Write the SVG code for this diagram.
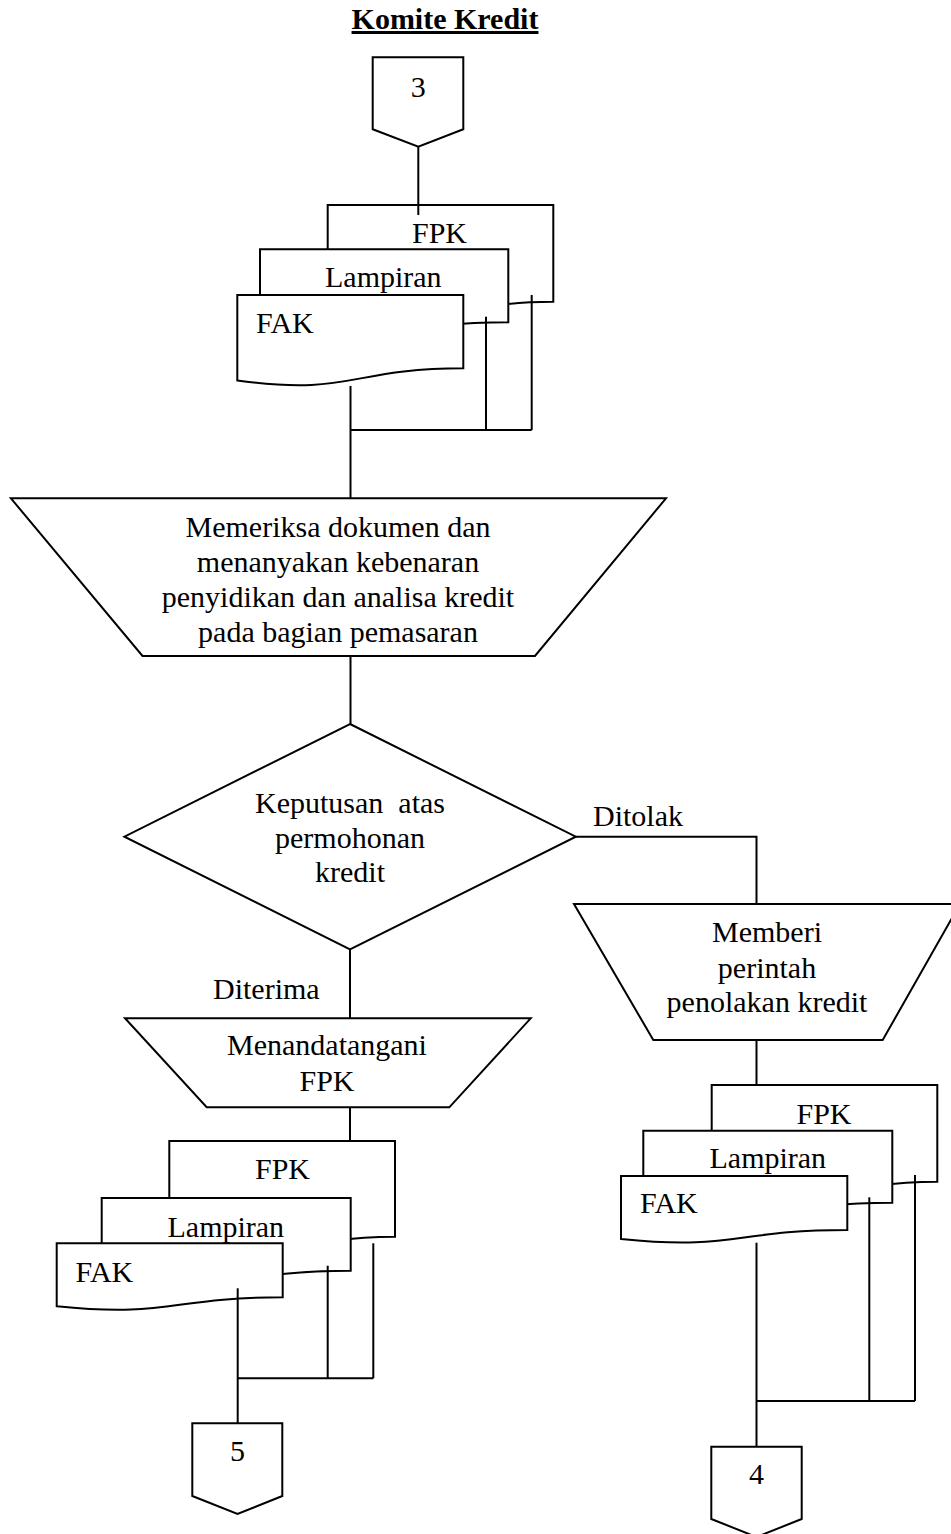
<svg xmlns="http://www.w3.org/2000/svg" width="951" height="1534" viewBox="0 0 951 1534">
  <style>
    .shape { fill: #ffffff; stroke: #000000; stroke-width: 2; stroke-linejoin: miter; }
    .conn { fill: none; stroke: #000000; stroke-width: 2; }
    text { font-family: "Liberation Serif", "Times New Roman", serif; font-size: 30px; fill: #000000; }
    .mid { text-anchor: middle; }
    .title { font-weight: bold; text-decoration: underline; }
  </style>
  <rect width="951" height="1534" fill="#ffffff"/>

  <text id="title" class="title mid" x="445" y="29">Komite Kredit</text>

  <!-- off-page connector 3 -->
  <g id="opc-3">
    <path class="shape" d="M372.7,57.3 H463.3 V129.3 L418.3,146.7 L372.7,129.3 Z"/>
    <text class="mid" x="418.3" y="96.7">3</text>
  </g>

  <!-- incoming document set -->
  <g id="docs-in">
    <path class="shape" d="M327.7,205 H553.3 V301.7 C440.5,301.7 440.5,338.6 327.7,317.6 Z"/>
    <text x="412" y="242.7">FPK</text>
    <path class="shape" d="M260,249.3 H508.3 V322.3 C384.2,322.3 384.2,350.1 260,334.3 Z"/>
    <text x="325" y="287">Lampiran</text>
    <path class="shape" d="M237.3,295 H463.3 V368.3 C350.3,368.3 350.3,396.3 237.3,380.4 Z"/>
    <text x="256" y="332.7">FAK</text>
  </g>

  <!-- check documents -->
  <g id="proc-check">
    <path class="shape" d="M10.9,498.3 H666 L535,656 H142.5 Z"/>
    <text class="mid" x="338" y="537">Memeriksa dokumen dan</text>
    <text class="mid" x="338" y="572">menanyakan kebenaran</text>
    <text class="mid" x="338" y="607">penyidikan dan analisa kredit</text>
    <text class="mid" x="338" y="642">pada bagian pemasaran</text>
  </g>

  <!-- decision -->
  <g id="decision">
    <path class="shape" d="M350,724 L575.8,836.7 L350,949.3 L124.4,836.7 Z"/>
    <text class="mid" x="350" y="812.7" xml:space="preserve">Keputusan  atas</text>
    <text class="mid" x="350" y="848">permohonan</text>
    <text class="mid" x="350" y="882">kredit</text>
  </g>

  <!-- rejection -->
  <g id="proc-reject">
    <path class="shape" d="M574,904 H960 L882.7,1040 H653.3 Z"/>
    <text class="mid" x="767" y="941.7">Memberi</text>
    <text class="mid" x="767" y="977.7">perintah</text>
    <text class="mid" x="767" y="1012.3">penolakan kredit</text>
  </g>

  <!-- signing -->
  <g id="proc-sign">
    <path class="shape" d="M125,1018.3 H530.7 L449.3,1107.3 H206.7 Z"/>
    <text class="mid" x="327" y="1055">Menandatangani</text>
    <text class="mid" x="327" y="1090.7">FPK</text>
  </g>

  <!-- accepted document set -->
  <g id="docs-accept">
    <path class="shape" d="M169.3,1141 H395 V1236.7 C282.2,1236.7 282.2,1273.2 169.3,1252.4 Z"/>
    <text x="255" y="1179">FPK</text>
    <path class="shape" d="M101.7,1198 H350.7 V1270.7 C226.2,1270.7 226.2,1298.4 101.7,1282.6 Z"/>
    <text x="167.5" y="1236.7">Lampiran</text>
    <path class="shape" d="M56.7,1243.3 H282.7 V1297.3 C169.7,1297.3 169.7,1317.9 56.7,1306.2 Z"/>
    <text x="75.5" y="1281.7">FAK</text>
  </g>

  <!-- rejected document set -->
  <g id="docs-reject">
    <path class="shape" d="M711.7,1085 H937.3 V1181.7 C824.5,1181.7 824.5,1218.6 711.7,1197.6 Z"/>
    <text x="796.5" y="1124">FPK</text>
    <path class="shape" d="M643.3,1130.7 H892.3 V1202.7 C767.8,1202.7 767.8,1230.2 643.3,1214.6 Z"/>
    <text x="709.5" y="1168.3">Lampiran</text>
    <path class="shape" d="M621,1176 H847.3 V1230 C734.2,1230 734.2,1250.6 621,1238.9 Z"/>
    <text x="640" y="1213.3">FAK</text>
  </g>

  <!-- off-page connector 5 -->
  <g id="opc-5">
    <path class="shape" d="M192.3,1423.3 H282.3 V1496 L237.5,1514 L192.3,1496 Z"/>
    <text class="mid" x="237.5" y="1461">5</text>
  </g>

  <!-- off-page connector 4 -->
  <g id="opc-4">
    <path class="shape" d="M711.3,1446.7 H801.7 V1519 L756.5,1537 L711.3,1519 Z"/>
    <text class="mid" x="756.5" y="1484">4</text>
  </g>

  <!-- flow lines -->
  <g id="connectors" class="conn">
    <path d="M418.3,146.7 V215"/>
    <path d="M350.5,386 V498.3"/>
    <path d="M350.5,430 H531.7"/>
    <path d="M486,316.7 V430"/>
    <path d="M531.7,295 V430"/>
    <path d="M350.5,656 V724"/>
    <path d="M575.8,836.7 H756.5 V904"/>
    <path d="M350,949.3 V1018.3"/>
    <path d="M350,1107.3 V1141"/>
    <path d="M237.7,1288.3 V1423.3"/>
    <path d="M237.7,1378.3 H373.3"/>
    <path d="M327.7,1265.7 V1378.3"/>
    <path d="M373.3,1243.3 V1378.3"/>
    <path d="M756.5,1040 V1085"/>
    <path d="M756.5,1242.7 V1446.7"/>
    <path d="M756.5,1401 H915"/>
    <path d="M869.3,1197.3 V1401"/>
    <path d="M915,1175 V1401"/>
  </g>
  <text id="label-ditolak" x="593" y="826">Ditolak</text>
  <text id="label-diterima" x="213" y="999.3">Diterima</text>
</svg>
